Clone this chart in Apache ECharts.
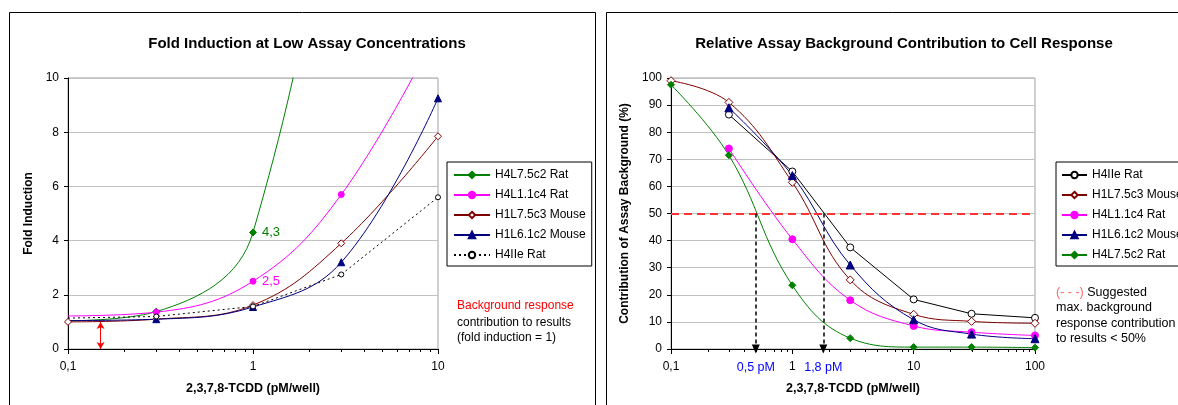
<!doctype html>
<html>
<head>
<meta charset="utf-8">
<title>TCDD Fold Induction / Assay Background</title>
<script src="https://cdn.jsdelivr.net/npm/echarts@6/dist/echarts.min.js"></script>
<style>
body{margin:0;background:#fff;}
#wrap{position:relative;width:1178px;height:405px;overflow:hidden;background:#fff;}
#left{position:absolute;left:0;top:0;width:600px;height:405px;}
#right{position:absolute;left:600px;top:0;width:578px;height:405px;}
</style>
</head>
<body>
<div id="wrap"><div id="left"></div><div id="right"></div></div>
<script>
// ---- data: left chart (fold induction) ----
var concLeft = [0.1, 0.3, 1, 3, 10];
var foldH4L75c2 = [1.04, 1.38, 4.3, 25, 140];
var foldH4L11c4 = [1.22, 1.36, 2.5, 5.7, 11.8];
var foldH1L75c3 = [1.0, 1.1, 1.62, 3.9, 7.85];
var foldH1L61c2 = [1.05, 1.1, 1.55, 3.2, 9.25];
var foldH4IIe = [1.14, 1.2, 1.57, 2.75, 5.6];
var labelPoints = [[1, 4.3, '4,3'], [1, 2.5, '2,5']];
var bgArrowX = 0.15;

// ---- data: right chart (% background contribution) ----
var concRight = [0.1, 0.3, 1, 3, 10, 30, 100];
var bgH4IIe = [null, 86.5, 65.5, 37.5, 18.3, 13, 11.5];
var bgH1L75c3 = [99, 91, 61.5, 25.5, 12.8, 10.2, 9.5];
var bgH4L11c4 = [null, 74, 40.5, 18, 8.5, 6.2, 5];
var bgH1L61c2 = [null, 89, 64, 31, 10.8, 5.5, 3.8];
var bgH4L75c2 = [97.5, 71.5, 23.5, 4, 0.7, 0.7, 0.5];
var limitPct = 50;
var crossX = [0.5, 1.8];
var crossLabels = ['0,5 pM', '1,8 pM'];

var FONT = 'Liberation Sans, Arial, sans-serif';
var GREEN = '#008000', MAGENTA = '#ff00ff', BROWN = '#800000', NAVY = '#000080', BLACK = '#000000';

function pairs(xs, ys, noMarkFirst) {
	var out = [];
	for (var i = 0; i < xs.length; i++) {
		if (ys[i] == null) continue;
		var d = {value: [xs[i], ys[i]]};
		if (noMarkFirst && i == 0) d.symbol = 'none';
		out.push(d);
	}
	return out;
}
function fmtLog(v) {
	var s = String(Math.round(v * 1000) / 1000);
	return s.replace('.', ',');
}
// 2..9 inside every decade
function minorValues(lo, hi) {
	var t = [];
	for (var d = lo; d < hi * 0.99; d *= 10) {
		for (var k = 2; k <= 9; k++) t.push([d * k, 0]);
	}
	return t;
}
// small downward ticks of the log axis, positioned by the axis scale
function minorTickSeries(lo, hi) {
	return {
		type: 'custom', name: 'minorTicks', silent: true, clip: false, z: 1,
		data: minorValues(lo, hi),
		renderItem: function (params, api) {
			var p = api.coord([api.value(0), 0]);
			return {type: 'line', shape: {x1: Math.round(p[0]) + 0.5, y1: p[1], x2: Math.round(p[0]) + 0.5, y2: p[1] + 3},
				style: {stroke: '#000', lineWidth: 1}};
		}
	};
}
function xAxis(lo, hi) {
	return {
		type: 'log', logBase: 10, min: lo, max: hi,
		name: '2,3,7,8-TCDD (pM/well)', nameLocation: 'middle', nameGap: 33,
		nameTextStyle: {fontFamily: FONT, fontSize: 12.5, fontWeight: 'bold', color: '#000'},
		axisLine: {lineStyle: {color: '#000', width: 1}},
		axisTick: {length: 5, lineStyle: {color: '#000'}},
		axisLabel: {formatter: fmtLog, fontFamily: FONT, fontSize: 12, color: '#000', margin: 12},
		splitLine: {show: false}
	};
}
function yAxis(max, interval, name, gap) {
	return {
		type: 'value', min: 0, max: max, interval: interval,
		name: name, nameLocation: 'middle', nameGap: gap,
		nameTextStyle: {fontFamily: FONT, fontSize: 12, fontWeight: 'bold', color: '#000'},
		axisLine: {show: true, onZero: false, lineStyle: {color: '#000', width: 1}},
		axisTick: {show: true, length: 4, lineStyle: {color: '#000'}},
		axisLabel: {fontFamily: FONT, fontSize: 12, color: '#000', margin: 9},
		splitLine: {lineStyle: {color: '#c0c0c0', width: 1}}
	};
}
function lineSeries(name, color, data, symbol, size, opts) {
	var s = {
		name: name, type: 'line', data: data, smooth: 0.4,
		symbol: symbol, symbolSize: size, showAllSymbol: true,
		lineStyle: {color: color, width: 1},
		itemStyle: {color: color, borderColor: color, borderWidth: 1},
		z: 3
	};
	for (var k in opts) s[k] = opts[k];
	return s;
}
function openStyle(c) { return {color: '#fff', borderColor: c, borderWidth: 1}; }
var legendBase = {
	orient: 'vertical', backgroundColor: '#fff', borderColor: '#000', borderWidth: 1,
	itemGap: 8, itemHeight: 8,
	textStyle: {fontFamily: FONT, fontSize: 12, color: '#000'}
};

// ---- left chart ----
var chartL = echarts.init(document.getElementById('left'));
chartL.setOption({
	animation: false,
	backgroundColor: '#fff',
	title: {text: 'Fold Induction at Low Assay Concentrations', left: 302, top: 31, textAlign: 'center',
		textStyle: {fontFamily: FONT, fontSize: 15, fontWeight: 'bold', color: '#000'}},
	grid: {left: 68, top: 78, width: 370, height: 271, show: true, borderColor: '#a0a0a0', borderWidth: 1},
	xAxis: xAxis(0.1, 10),
	yAxis: yAxis(10, 2, 'Fold Induction', 31),
	legend: Object.assign({}, legendBase, {left: 447, top: 162, itemWidth: 36, padding: [7, 6, 5, 6],
		data: ['H4L7.5c2 Rat', 'H4L1.1c4 Rat', 'H1L7.5c3 Mouse', 'H1L6.1c2 Mouse', 'H4IIe Rat']}),
	graphic: [
		{type: 'rect', silent: true, shape: {x: 9.5, y: 12.5, width: 586, height: 420}, style: {fill: 'none', stroke: '#000', lineWidth: 1}},
		{type: 'text', left: 457, top: 300, style: {text: 'Background response', fill: '#ff0000', font: '12px ' + FONT}},
		{type: 'text', left: 457, top: 315, style: {text: 'contribution to results\n(fold induction = 1)', fill: '#000', font: '12px ' + FONT, lineHeight: 15}}
	],
	series: [
		lineSeries('H4L7.5c2 Rat', GREEN, pairs(concLeft, foldH4L75c2, true), 'diamond', 7, {
			markPoint: {symbol: 'circle', symbolSize: 0, data: [{coord: labelPoints[0].slice(0, 2), value: labelPoints[0][2]}],
				label: {show: true, position: 'right', distance: 9, formatter: '{c}', color: GREEN, fontFamily: FONT, fontSize: 13}}
		}),
		lineSeries('H4L1.1c4 Rat', MAGENTA, pairs(concLeft, foldH4L11c4, true), 'circle', 6, {
			markPoint: {symbol: 'circle', symbolSize: 0, data: [{coord: labelPoints[1].slice(0, 2), value: labelPoints[1][2]}],
				label: {show: true, position: 'right', distance: 9, formatter: '{c}', color: MAGENTA, fontFamily: FONT, fontSize: 13}}
		}),
		lineSeries('H1L7.5c3 Mouse', BROWN, pairs(concLeft, foldH1L75c3, false), 'diamond', 7, {itemStyle: openStyle(BROWN)}),
		lineSeries('H1L6.1c2 Mouse', NAVY, pairs(concLeft, foldH1L61c2, true), 'triangle', 7),
		lineSeries('H4IIe Rat', BLACK, pairs(concLeft, foldH4IIe, true), 'circle', 5, {
			smooth: false, itemStyle: openStyle(BLACK),
			lineStyle: {color: BLACK, width: 1, type: [2, 3]},
			markLine: {silent: true, symbol: ['arrow', 'arrow'], symbolSize: [6, 7],
				lineStyle: {color: '#ff0000', width: 1, type: 'solid'}, label: {show: false},
				data: [[{coord: [bgArrowX, 1]}, {coord: [bgArrowX, 0]}]]}
		}),
		minorTickSeries(0.1, 10)
	]
});

// ---- right chart ----
var chartR = echarts.init(document.getElementById('right'));
var crossPts = crossX.map(function (x, i) { return {coord: [x, 0], value: crossLabels[i]}; });
var crossLines = crossX.map(function (x) { return [{coord: [x, limitPct]}, {coord: [x, 0]}]; });
chartR.setOption({
	animation: false,
	backgroundColor: '#fff',
	title: {text: 'Relative Assay Background Contribution to Cell Response', left: 299, top: 31, textAlign: 'center',
		textStyle: {fontFamily: FONT, fontSize: 15, fontWeight: 'bold', color: '#000'}},
	grid: {left: 71, top: 78, width: 364, height: 271, show: true, borderColor: '#a0a0a0', borderWidth: 1},
	xAxis: xAxis(0.1, 100),
	yAxis: yAxis(100, 10, 'Contribution of Assay Background (%)', 37),
	legend: Object.assign({}, legendBase, {left: 456, top: 162, itemWidth: 25, padding: [7, 6, 5, 5],
		data: ['H4IIe Rat', 'H1L7.5c3 Mouse', 'H4L1.1c4 Rat', 'H1L6.1c2 Mouse', 'H4L7.5c2 Rat']}),
	graphic: [
		{type: 'rect', silent: true, shape: {x: 6.5, y: 12.5, width: 600, height: 420}, style: {fill: 'none', stroke: '#000', lineWidth: 1}},
		{type: 'text', left: 456, top: 286, style: {
			text: '{r|(- - -)}{b| Suggested}\n{b|max. background}\n{b|response contribution}\n{b|to results }{u|<}{b| 50%}',
			rich: {
				r: {fill: '#ff6666', font: '12.5px ' + FONT, lineHeight: 15.5},
				b: {fill: '#000', font: '12.5px ' + FONT, lineHeight: 15.5},
				u: {fill: '#000', font: '12.5px ' + FONT, lineHeight: 15.5, textDecoration: 'underline'}
			}}}
	],
	series: [
		lineSeries('H4IIe Rat', BLACK, pairs(concRight, bgH4IIe, false), 'circle', 7, {smooth: false, itemStyle: openStyle(BLACK), lineStyle: {color: BLACK, width: 1}}),
		lineSeries('H1L7.5c3 Mouse', BROWN, pairs(concRight, bgH1L75c3, false), 'diamond', 8, {itemStyle: openStyle(BROWN)}),
		lineSeries('H4L1.1c4 Rat', MAGENTA, pairs(concRight, bgH4L11c4, false), 'circle', 7),
		lineSeries('H1L6.1c2 Mouse', NAVY, pairs(concRight, bgH1L61c2, false), 'triangle', 8),
		lineSeries('H4L7.5c2 Rat', GREEN, pairs(concRight, bgH4L75c2, false), 'diamond', 7, {
			markLine: {silent: true, symbol: 'none', label: {show: false},
				lineStyle: {color: '#ff3333', width: 2, type: [8, 5]},
				data: [{yAxis: limitPct}]}
		}),
		{
			name: 'crossings', type: 'line', data: [], z: 4,
			markLine: {silent: true, symbol: ['none', 'triangle'], symbolSize: [8, 9], symbolRotate: 180,
				lineStyle: {color: '#000', width: 1.5, type: [4, 3]}, label: {show: false},
				data: crossLines},
			markPoint: {symbol: 'circle', symbolSize: 0, data: crossPts,
				label: {show: true, position: 'bottom', distance: 12, formatter: '{c}', color: '#0000ff', fontFamily: FONT, fontSize: 12.5}}
		},
		minorTickSeries(0.1, 100)
	]
});
</script>
</body>
</html>
